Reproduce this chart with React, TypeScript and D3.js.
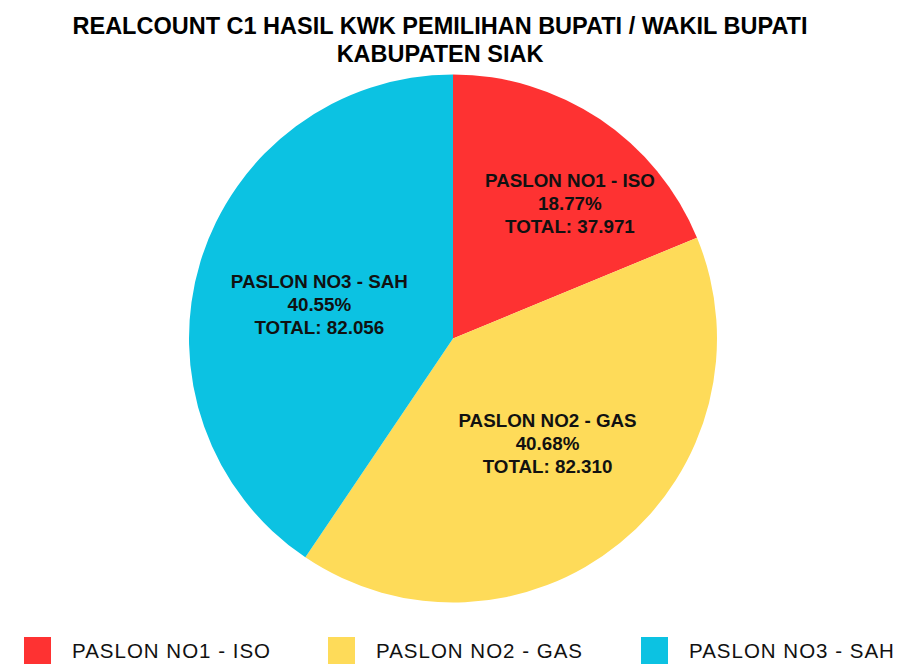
import React from "react";
import * as d3 from "d3";

const titleLines = ["REALCOUNT C1 HASIL KWK PEMILIHAN BUPATI / WAKIL BUPATI", "KABUPATEN SIAK"];
const categories = ["PASLON NO1 - ISO", "PASLON NO2 - GAS", "PASLON NO3 - SAH"];
const totals = [37971, 82310, 82056];
const totalLabels = ["37.971", "82.310", "82.056"];
const percentLabels = ["18.77%", "40.68%", "40.55%"];
const colors = ["#FE3232", "#FEDB59", "#0CC2E2"];

const W = 900;
const H = 671;
const cx = 453;
const cy = 338.5;
const R = 264;
const legendX = [24, 328, 641];
const labelNudge = [
  [20, 10],
  [7, -2],
  [-1, 7],
];

export default function App() {
  const pie = d3.pie<number>().sort(null).value((d) => d)(totals);
  const arc = d3.arc<d3.PieArcDatum<number>>().innerRadius(0).outerRadius(R);
  const font = "'Liberation Sans', Arial, Helvetica, sans-serif";

  return (
    <svg width={W} height={H} style={{ position: "absolute", left: 0, top: 0, background: "#fff" }} fontFamily={font}>
      <rect width={W} height={H} fill="#fff" />
      {titleLines.map((t, i) => (
        <text key={i} x={440} y={34 + i * 28} textAnchor="middle" fontWeight="bold" fontSize={23.5} fill="#000">
          {t}
        </text>
      ))}
      <g transform={`translate(${cx},${cy})`}>
        {pie.map((d, i) => (
          <path key={i} d={arc(d) || ""} fill={colors[i]} />
        ))}
        {pie.map((d, i) => {
          const theta = d.endAngle - d.startAngle;
          const mid = (d.startAngle + d.endAngle) / 2;
          const rc = ((2 * R * Math.sin(theta / 2)) / (1.5 * theta)) * 1.05;
          const x = rc * Math.sin(mid) + labelNudge[i][0];
          const y = -rc * Math.cos(mid) + labelNudge[i][1];
          const lines = [categories[i], percentLabels[i], "TOTAL: " + totalLabels[i]];
          return (
            <text key={i} textAnchor="middle" fontWeight="bold" fontSize={18.8} fill="#111">
              {lines.map((l, j) => (
                <tspan key={j} x={x} y={y + (j - 1) * 23 + 6.5}>
                  {l}
                </tspan>
              ))}
            </text>
          );
        })}
      </g>
      {categories.map((c, i) => (
        <g key={i}>
          <rect x={legendX[i]} y={637} width={27} height={27} fill={colors[i]} />
          <text x={legendX[i] + 48} y={657.5} fontSize={20.5} letterSpacing={1} fill="#111">
            {c}
          </text>
        </g>
      ))}
    </svg>
  );
}
